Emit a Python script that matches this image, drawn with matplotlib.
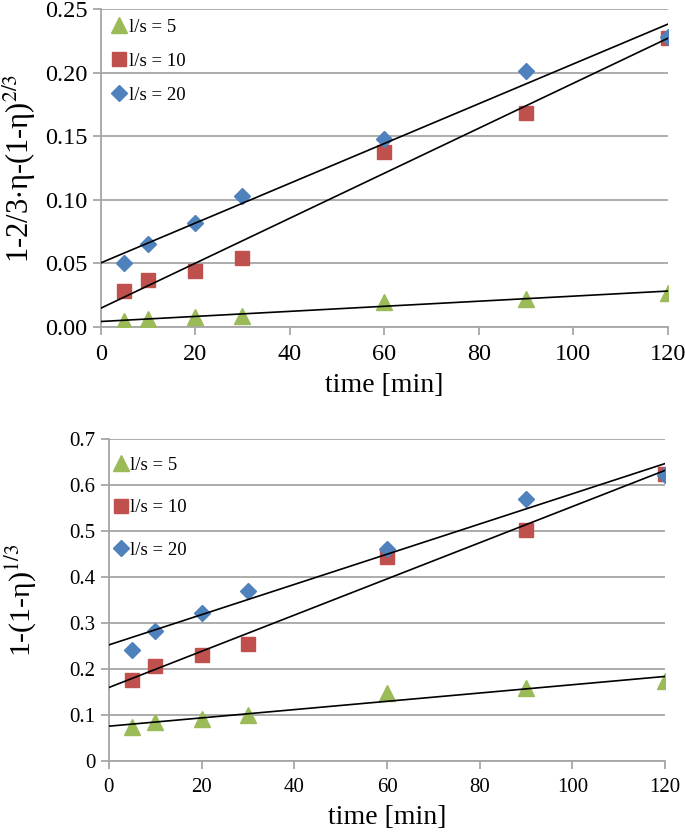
import numpy as np
import matplotlib.pyplot as plt

plt.rcParams['font.family'] = ['Liberation Serif', 'DejaVu Serif']
plt.rcParams['mathtext.fontset'] = 'stix'

time = [5, 10, 20, 30, 60, 90, 120]
labels = ["l/s = 5", "l/s = 10", "l/s = 20"]

# top: 1-2/3*eta-(1-eta)^(2/3)
top_5 = [0.005, 0.006, 0.008, 0.009, 0.020, 0.022, 0.027]
top_10 = [0.028, 0.037, 0.044, 0.054, 0.138, 0.168, 0.227]
top_20 = [0.050, 0.065, 0.082, 0.103, 0.148, 0.201, 0.228]

# bottom: 1-(1-eta)^(1/3)
bot_5 = [0.075, 0.085, 0.093, 0.100, 0.148, 0.160, 0.175]
bot_10 = [0.177, 0.208, 0.230, 0.255, 0.444, 0.502, 0.625]
bot_20 = [0.243, 0.283, 0.323, 0.370, 0.461, 0.570, 0.622]

colors = ['#9BBB59', '#C0504D', '#4F81BD']
markers = ['^', 's', 'D']
msizes = [11, 10, 8]


def panel(ax, series, ymax, ystep, yfmt, ylabel, tsize, xlsize, ylsize,
          ylx, lspace, lanchor):
    x = np.array(time)
    for y, c, m, ms, lab in zip(series, colors, markers, msizes, labels):
        ax.plot(x, y, linestyle='none', marker=m, color=c, markersize=ms,
                label=lab, zorder=3)
    for y in series:
        k, b = np.polyfit(x, y, 1)
        xs = np.array([0, 120])
        ax.plot(xs, k * xs + b, color='black', linewidth=1.2, zorder=4)
    ax.set_xlim(0, 120)
    ax.set_ylim(0, ymax)
    ax.set_xticks(range(0, 121, 20))
    yt = np.arange(0, ymax + 1e-9, ystep)
    ax.set_yticks(yt)
    ax.set_yticklabels([yfmt.format(v) for v in yt])
    ax.grid(axis='y', color='#a6a6a6', linewidth=1.3)
    ax.set_axisbelow(True)
    for s in ['top', 'right']:
        ax.spines[s].set_visible(False)
    for s in ['left', 'bottom']:
        ax.spines[s].set_color('#a6a6a6')
        ax.spines[s].set_linewidth(1.3)
    ax.tick_params(axis='both', color='#a6a6a6', width=1.3, length=6,
                   labelsize=tsize)
    ax.tick_params(axis='x', pad=6)
    ax.set_xlabel("time [min]", fontsize=xlsize, labelpad=6)
    ax.set_ylabel(ylabel, fontsize=ylsize)
    ax.yaxis.set_label_coords(ylx, 0.5)
    ax.legend(loc='upper left', bbox_to_anchor=lanchor, frameon=False,
              fontsize=13.5, handletextpad=0.0, labelspacing=lspace,
              handlelength=1.0, borderaxespad=0.3, borderpad=0.2)


fig = plt.figure(figsize=(6.85, 8.32), dpi=100)
ax1 = fig.add_axes([0.147, 0.607, 0.828, 0.382])
ax2 = fig.add_axes([0.159, 0.085, 0.812, 0.387])

panel(ax1, [top_5, top_10, top_20], 0.25, 0.05, "{:.2f}",
      r"1-2/3$\cdot$η-(1-η)$^{2/3}$", 17.5, 20, 22, -0.11, 0.9, (0, 1))
panel(ax2, [bot_5, bot_10, bot_20], 0.7, 0.1, "{:g}",
      r"1-(1-η)$^{1/3}$", 15, 20, 21.5, -0.125, 1.35, (-0.012, 0.975))

fig.savefig("out.png", dpi=100)
